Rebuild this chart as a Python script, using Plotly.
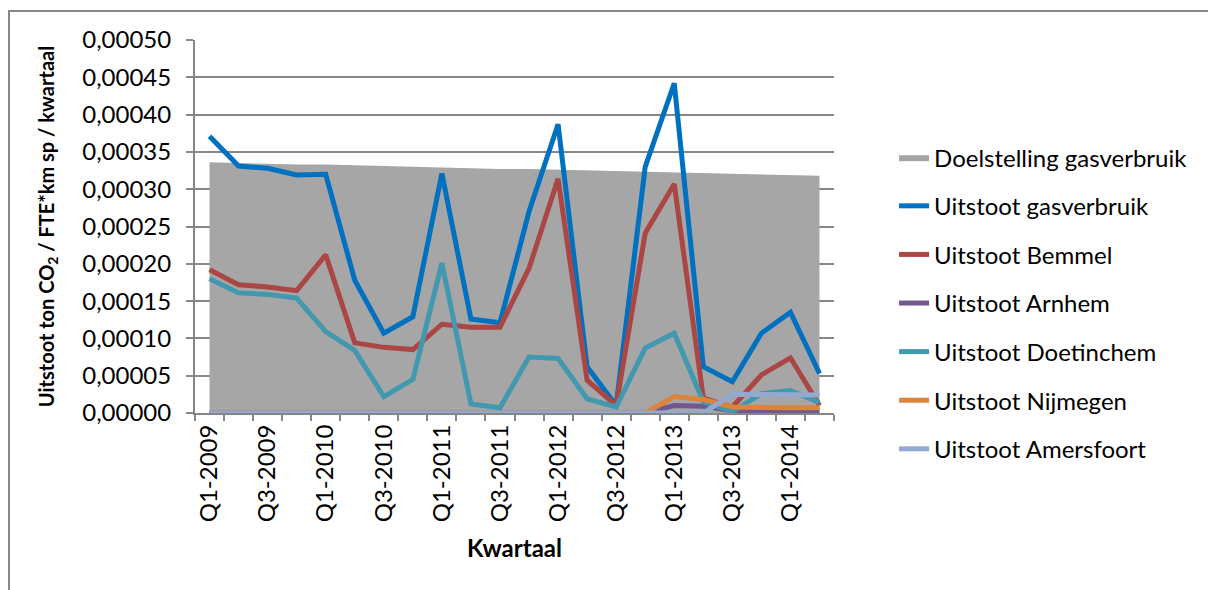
import plotly.graph_objects as go

# Quarter categories (Q1-2009 .. Q2-2014)
quarters = [
    "Q1-2009", "Q2-2009", "Q3-2009", "Q4-2009",
    "Q1-2010", "Q2-2010", "Q3-2010", "Q4-2010",
    "Q1-2011", "Q2-2011", "Q3-2011", "Q4-2011",
    "Q1-2012", "Q2-2012", "Q3-2012", "Q4-2012",
    "Q1-2013", "Q2-2013", "Q3-2013", "Q4-2013",
    "Q1-2014", "Q2-2014",
]

# Emission target (area)
doelstelling = [
    0.000336, 0.000335, 0.000334, 0.000333, 0.000333, 0.000332,
    0.000331, 0.000330, 0.000329, 0.000328, 0.000327, 0.000327,
    0.000326, 0.000325, 0.000324, 0.000323, 0.000322, 0.000321,
    0.000321, 0.000320, 0.000319, 0.000318,
]

uitstoot_gas = [
    0.000371, 0.000331, 0.000328, 0.000319, 0.000320, 0.000178,
    0.000107, 0.000129, 0.000321, 0.000126, 0.000121, 0.000270,
    0.000387, 0.000062, 0.000010, 0.000330, 0.000442, 0.000062,
    0.000042, 0.000107, 0.000135, 0.000053,
]

uitstoot_bemmel = [
    0.000192, 0.000172, 0.000169, 0.000164, 0.000212, 0.000094,
    0.000088, 0.000085, 0.000119, 0.000115, 0.000115, 0.000194,
    0.000314, 0.000044, 0.000010, 0.000241, 0.000307, 0.000020,
    0.000008, 0.000051, 0.000074, 0.000010,
]

uitstoot_arnhem = [
    0, 0, 0, 0, 0, 0, 0, 0, 0, 0, 0, 0, 0, 0, 0, 0,
    0.000010, 0.000009, 0.000003, 0.000003, 0.000003, 0.000003,
]

uitstoot_doetinchem = [
    0.000180, 0.000161, 0.000159, 0.000154, 0.000109, 0.000084,
    0.000022, 0.000045, 0.000201, 0.000012, 0.000007, 0.000075,
    0.000073, 0.000019, 0.000008, 0.000087, 0.000107, 0.000015,
    0.000002, 0.000026, 0.000030, 0.000014,
]

uitstoot_nijmegen = [
    0, 0, 0, 0, 0, 0, 0, 0, 0, 0, 0, 0, 0, 0, 0, 0,
    0.000022, 0.000018, 0.000008, 0.000007, 0.000007, 0.000007,
]

uitstoot_amersfoort = [
    0, 0, 0, 0, 0, 0, 0, 0, 0, 0, 0, 0, 0, 0, 0, 0, 0, 0,
    0.000025, 0.000025, 0.000025, 0.000024,
]

y_ticks = [0.0, 0.00005, 0.0001, 0.00015, 0.0002, 0.00025,
           0.0003, 0.00035, 0.0004, 0.00045, 0.0005]

FONT = "Lato"
x = list(range(len(quarters)))

fig = go.Figure()

fig.add_trace(go.Scatter(
    x=x, y=doelstelling, name="Doelstelling gasverbruik",
    mode="lines", fill="tozeroy", fillcolor="#A6A6A6",
    line=dict(width=0, color="#A6A6A6"), legendgroup="g0",
    hoverinfo="skip",
))

lines = [
    ("Uitstoot gasverbruik", uitstoot_gas, "#0070C0"),
    ("Uitstoot Bemmel", uitstoot_bemmel, "#AA4643"),
    ("Uitstoot Arnhem", uitstoot_arnhem, "#71588F"),
    ("Uitstoot Doetinchem", uitstoot_doetinchem, "#4198AF"),
    ("Uitstoot Nijmegen", uitstoot_nijmegen, "#DB843D"),
    ("Uitstoot Amersfoort", uitstoot_amersfoort, "#93A9CF"),
]
for i, (name, vals, col) in enumerate(lines, start=1):
    fig.add_trace(go.Scatter(
        x=x, y=vals, name=name, mode="lines",
        line=dict(color=col, width=5), legendgroup=f"g{i}",
    ))

n = len(quarters)
fig.update_layout(
    width=1208, height=590,
    margin=dict(l=195, r=374, t=40, b=177),
    paper_bgcolor="white", plot_bgcolor="white",
    separators=",.",
    font=dict(family=FONT, size=24, color="black"),
    showlegend=True,
    legend=dict(
        x=1.094, xanchor="left", y=0.745, yanchor="top",
        font=dict(family=FONT, size=24, color="black"),
        tracegroupgap=14.4, itemwidth=30,
        bgcolor="rgba(0,0,0,0)",
    ),
    xaxis=dict(
        range=[-0.5, n - 0.5],
        tickmode="array",
        tickvals=x[::2],
        ticktext=quarters[::2],
        tickangle=-90,
        ticks="", showgrid=False, zeroline=False,
        showline=True, linecolor="#868686", linewidth=2,
        tickfont=dict(family=FONT, size=24, color="black"),
        minor=dict(
            tickmode="array",
            tickvals=[k - 0.5 for k in range(n + 1)],
            ticks="outside", ticklen=6, tickwidth=2, tickcolor="#868686",
            showgrid=False,
        ),
        title=dict(text="<b>Kwartaal</b>", standoff=19,
                   font=dict(family=FONT, size=24, color="black")),
    ),
    yaxis=dict(
        range=[0, 0.0005],
        tickmode="array", tickvals=y_ticks, tickformat=".5f",
        ticks="outside", ticklen=7, tickwidth=2, tickcolor="#868686",
        ticklabelstandoff=10,
        showgrid=True, gridcolor="#868686", gridwidth=2,
        zeroline=False,
        showline=True, linecolor="#868686", linewidth=2,
        tickfont=dict(family=FONT, size=24, color="black"),
        title=dict(text="<b>Uitstoot ton CO<sub>2</sub> / FTE*km sp / kwartaal</b>",
                   standoff=22,
                   font=dict(family=FONT, size=20, color="black")),
    ),
)

# Chart frame
fig.add_shape(
    type="rect", xref="paper", yref="paper",
    x0=(9 - 195) / 639, x1=(1260 - 195) / 639,
    y0=(413 - 640) / 373, y1=(413 - 11) / 373,
    line=dict(color="#888888", width=2), fillcolor="rgba(0,0,0,0)",
    layer="below",
)

fig.write_html("out.html")
